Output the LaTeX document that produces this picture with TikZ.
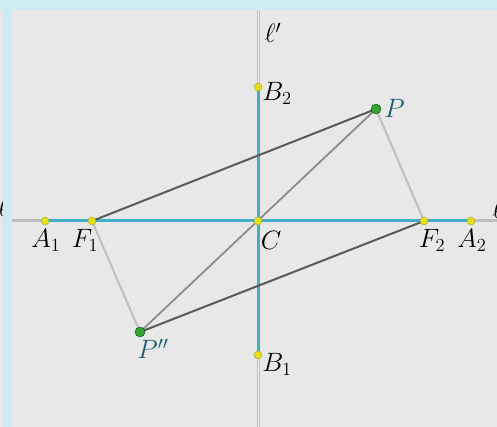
\documentclass[tikz,border=0pt]{standalone}
\usepackage{amsmath}
\begin{document}
\begin{tikzpicture}[x=1pt,y=-1pt,
  lbl/.style={inner sep=0pt,font=\huge,scale=1.28,transform shape},
  ypt/.style={circle,fill=yellow!90!black,draw=yellow!60!black,line width=0.4pt,inner sep=0pt,minimum size=8pt},
  gpt/.style={circle,fill=green!55!black!80,draw=green!35!black,line width=0.4pt,inner sep=0pt,minimum size=10pt},
  axisline/.style={draw=gray!50,line width=3pt},
  axisinner/.style={draw=gray!12,line width=0.8pt},
  seg/.style={draw=segc,line width=3pt},
  darkl/.style={draw=black!65,line width=2pt},
  lightl/.style={draw=black!25,line width=2pt},
  midl/.style={draw=black!45,line width=1.8pt}]
\definecolor{bgband}{HTML}{CCEBF2}
\definecolor{bggrey}{HTML}{E8E8E8}
\definecolor{tealtext}{HTML}{1B5C72}
\definecolor{segc}{HTML}{3EAFC6}
\useasboundingbox (0,0) rectangle (497,427);
\fill[bggrey] (0,0) rectangle (497,427);
% clipped side labels
\node[lbl,anchor=east] (ellL) at (9,207) {$\ell$};
\node[lbl,anchor=west] (ellR) at (492,209) {$\ell$};
\fill[bgband] (0,0) rectangle (497,10);
\fill[bgband] (3,10) rectangle (12,427);
% coordinates
\coordinate (C) at (258,221);
\coordinate (A1) at (45,221);
\coordinate (F1) at (92,221);
\coordinate (F2) at (424,221);
\coordinate (A2) at (471,221);
\coordinate (B2) at (258,87);
\coordinate (B1) at (258,355);
\coordinate (P) at (376,109);
\coordinate (Q) at (140,332);
\coordinate (hL) at (12,221);
\coordinate (hR) at (497,221);
\coordinate (vT) at (258,10);
\coordinate (vB) at (258,427);
% axes
\draw[axisline] (hL) -- (hR);
\draw[axisline] (vT) -- (vB);
\draw[axisinner] (vT) -- (vB);
% segments
\draw[seg] (A1) -- (A2);
\draw[seg] (B1) -- (B2);
% triangle lines
\draw[lightl] (P) -- (F2);
\draw[lightl] (F1) -- (Q);
\draw[midl] (P) -- (Q);
\draw[darkl] (F1) -- (P);
\draw[darkl] (Q) -- (F2);
% points
\node[ypt] (nA1) at (A1) {};
\node[ypt] (nF1) at (F1) {};
\node[ypt] (nF2) at (F2) {};
\node[ypt] (nA2) at (A2) {};
\node[ypt] (nC) at (C) {};
\node[ypt] (nB1) at (B1) {};
\node[ypt] (nB2) at (B2) {};
\node[gpt] (nP) at (P) {};
\node[gpt] (nQ) at (Q) {};
% labels
\node[lbl] (lellp) at (273,33) {$\ell'$};
\node[lbl,anchor=west] (lB2) at (262,93) {$B_2$};
\node[lbl,anchor=west,text=tealtext] (lP) at (384,108) {$P$};
\node[lbl] (lA1) at (46,240) {$A_1$};
\node[lbl] (lF1) at (85,240) {$F_1$};
\node[lbl] (lC) at (271,240) {$C$};
\node[lbl] (lF2) at (432,240) {$F_2$};
\node[lbl] (lA2) at (472,240) {$A_2$};
\node[lbl,text=tealtext] (lQ) at (153,349) {$P''$};
\node[lbl,anchor=west] (lB1) at (262,364) {$B_1$};
\end{tikzpicture}
\end{document}
